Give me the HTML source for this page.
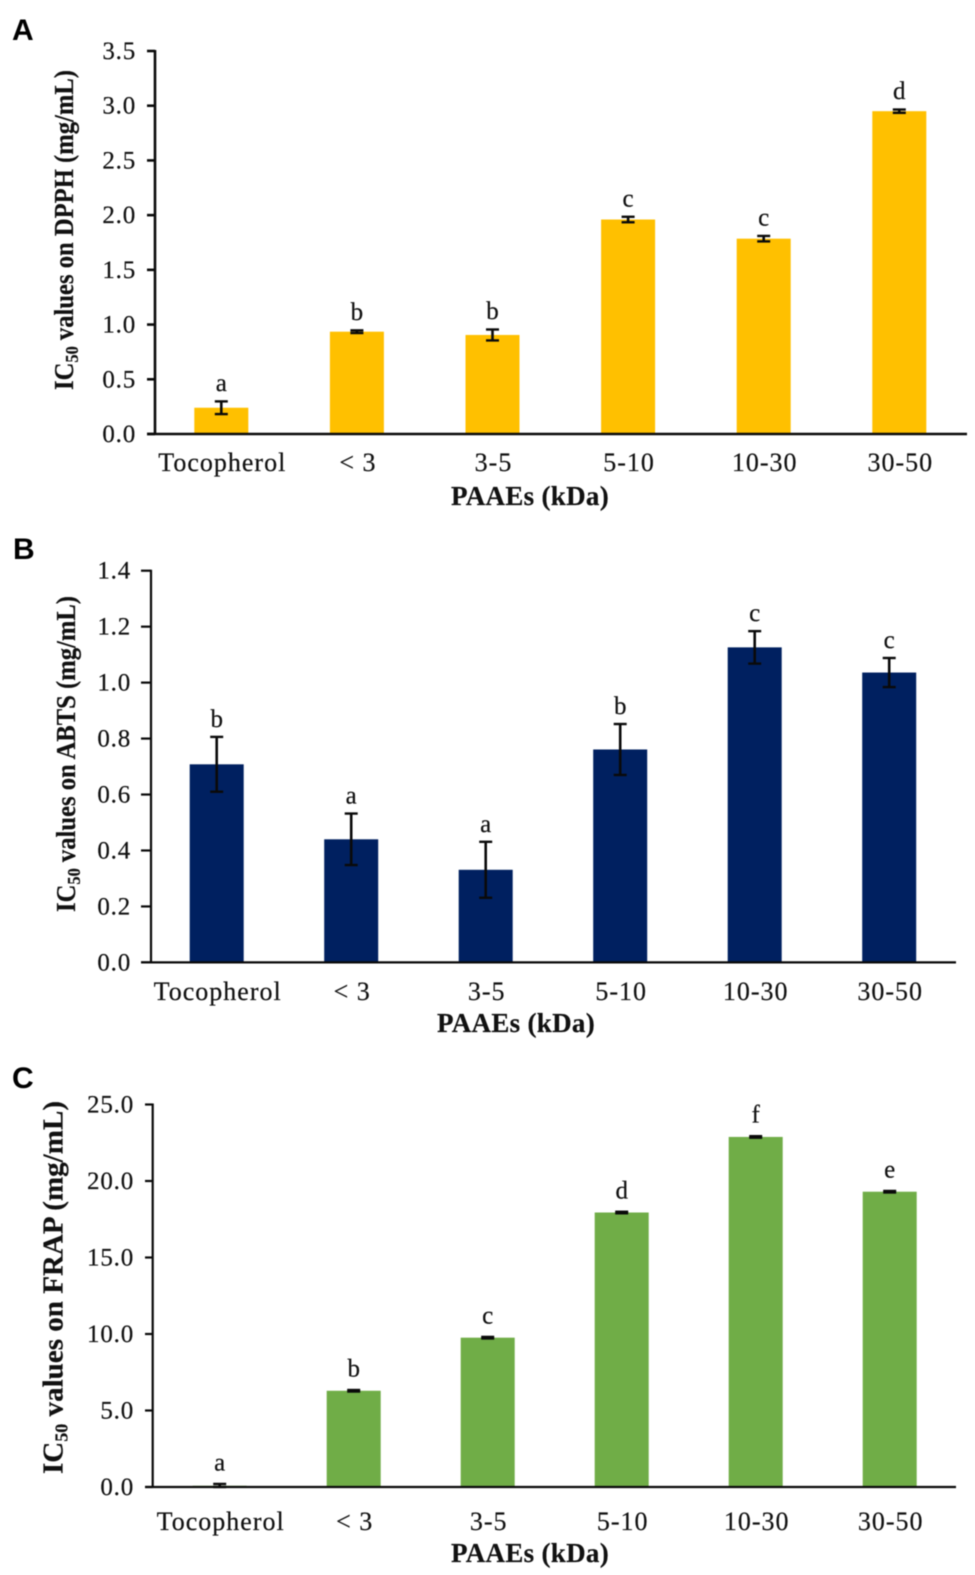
<!DOCTYPE html>
<html lang="en">
<head>
<meta charset="utf-8">
<title>IC50 values of PAAEs on DPPH, ABTS and FRAP</title>
<style>
html,body{margin:0;padding:0;background:#fff;}
body{width:975px;height:1575px;overflow:hidden;}
svg{display:block;filter:blur(0.45px);}
text{font-family:"Liberation Serif",serif;fill:#111;stroke:#111;stroke-width:0.2px;}
.panel-letter{font-family:"Liberation Sans",sans-serif;font-weight:bold;font-size:30px;fill:#000;stroke:none;}
.tick{font-size:25px;letter-spacing:0.8px;}
.cat{font-size:26px;letter-spacing:1px;}
.sig{font-size:25px;text-anchor:middle;}
.title{font-weight:bold;}
.xtitle{font-weight:bold;font-size:27px;letter-spacing:0.3px;text-anchor:middle;}
.sub{font-size:18px;}
</style>
</head>
<body>
<svg id="fig" width="975" height="1575" viewBox="0 0 975 1575" xmlns="http://www.w3.org/2000/svg">
  <rect width="975" height="1575" fill="#fff"></rect>

  <text class="panel-letter" x="12" y="40">A</text>
  <text class="panel-letter" x="13" y="559">B</text>
  <text class="panel-letter" x="12" y="1088">C</text>

  <g id="panel-a"></g>
  <g id="panel-b"></g>
  <g id="panel-c"></g>

  <text class="title" transform="translate(73,390) rotate(-90)" font-size="27" textLength="320" lengthAdjust="spacingAndGlyphs">IC<tspan class="sub" dy="5">50</tspan><tspan dy="-5"> values on DPPH (mg/mL)</tspan></text>
  <text class="title" transform="translate(75,912) rotate(-90)" font-size="27" textLength="316" lengthAdjust="spacingAndGlyphs">IC<tspan class="sub" dy="5">50</tspan><tspan dy="-5"> values on ABTS (mg/mL)</tspan></text>
  <text class="title" transform="translate(62.5,1474) rotate(-90)" font-size="29" textLength="373" lengthAdjust="spacingAndGlyphs">IC<tspan class="sub" dy="5">50</tspan><tspan dy="-5"> values on FRAP (mg/mL)</tspan></text>

  <text class="xtitle" x="530" y="505">PAAEs (kDa)</text>
  <text class="xtitle" x="516" y="1032">PAAEs (kDa)</text>
  <text class="xtitle" x="530" y="1562">PAAEs (kDa)</text>
</svg>

<script>
const categories = ['Tocopherol', '< 3', '3-5', '5-10', '10-30', '30-50'];

const dpphValues = [0.24, 0.935, 0.905, 1.96, 1.785, 2.95];
const dpphErrors = [0.058, 0.012, 0.05, 0.025, 0.025, 0.015];
const dpphLetters = ['a', 'b', 'b', 'c', 'c', 'd'];
const dpphTicks = ['0.0', '0.5', '1.0', '1.5', '2.0', '2.5', '3.0', '3.5'];

const abtsValues = [0.708, 0.44, 0.331, 0.761, 1.126, 1.036];
const abtsErrors = [0.098, 0.092, 0.1, 0.091, 0.058, 0.052];
const abtsLetters = ['b', 'a', 'a', 'b', 'c', 'c'];
const abtsTicks = ['0.0', '0.2', '0.4', '0.6', '0.8', '1.0', '1.2', '1.4'];

const frapValues = [0.08, 6.29, 9.76, 17.94, 22.88, 19.3];
const frapErrors = [0.12, 0.05, 0.05, 0.05, 0.05, 0.05];
const frapLetters = ['a', 'b', 'c', 'd', 'f', 'e'];
const frapTicks = ['0.0', '5.0', '10.0', '15.0', '20.0', '25.0'];

const SVG_NS = 'http://www.w3.org/2000/svg';

function line(parent, x1, y1, x2, y2, width, name) {
  const el = document.createElementNS(SVG_NS, 'line');
  el.setAttribute('x1', x1);
  el.setAttribute('y1', y1);
  el.setAttribute('x2', x2);
  el.setAttribute('y2', y2);
  el.setAttribute('stroke', '#0a0a0a');
  el.setAttribute('stroke-width', width);
  
  
  parent.appendChild(el);
  return el;
}

function label(parent, x, y, str, cls, anchor, name) {
  const el = document.createElementNS(SVG_NS, 'text');
  el.setAttribute('x', x);
  el.setAttribute('y', y);
  el.setAttribute('class', cls);
  el.setAttribute('text-anchor', anchor);
  
  
  el.textContent = str;
  parent.appendChild(el);
  return el;
}

function drawPanel(p) {
  const g = document.getElementById(p.id);
  const maxTick = parseFloat(p.ticks[p.ticks.length - 1]);
  const yScale = v => p.bottom - (v / maxTick) * (p.bottom - p.top);
  const xScale = i => p.first + i * p.step;

  p.values.forEach((v, i) => {
    const bar = document.createElementNS(SVG_NS, 'rect');
    bar.setAttribute('x', xScale(i) - 27);
    bar.setAttribute('y', yScale(v));
    bar.setAttribute('width', 54);
    bar.setAttribute('height', p.bottom - yScale(v));
    bar.setAttribute('fill', p.color);
    
    
    g.appendChild(bar);
  });

  line(g, p.axisX, p.top - 1, p.axisX, p.bottom + 1, p.axisW, 'y-axis-line');
  line(g, p.tickX, p.bottom, p.right, p.bottom, p.axisW, 'x-axis-line');

  p.ticks.forEach(t => {
    const y = yScale(parseFloat(t));
    line(g, p.tickX, y, p.axisX, y, p.axisW, 'y-tick-mark');
    label(g, p.labelX, y + 8, t, 'tick', 'end', 'y-tick-label');
  });

  categories.forEach((c, i) => {
    label(g, xScale(i) + 1, p.catY, c, 'cat', 'middle', 'x-tick-label');
  });

  p.values.forEach((v, i) => {
    const cx = xScale(i);
    const hi = yScale(v + p.errors[i]);
    const lo = yScale(Math.max(v - p.errors[i], 0));
    line(g, cx, hi, cx, lo, 2.6, 'error-bar-stem');
    line(g, cx - 6.5, hi, cx + 6.5, hi, 2.4, 'error-bar-cap-top');
    line(g, cx - 6.5, lo, cx + 6.5, lo, 2.4, 'error-bar-cap-bottom');
    label(g, cx, hi - p.letterGap, p.letters[i], 'sig', 'middle', 'significance-letter');
  });
}

drawPanel({
  id: 'panel-a', key: 'dpph', color: '#FFC000',
  values: dpphValues, errors: dpphErrors, letters: dpphLetters, ticks: dpphTicks,
  top: 51, bottom: 434, axisX: 155, tickX: 147, right: 967, axisW: 2.6,
  first: 221.3, step: 135.6, labelX: 136, catY: 471, letterGap: 10.5
});
drawPanel({
  id: 'panel-b', key: 'abts', color: '#002060',
  values: abtsValues, errors: abtsErrors, letters: abtsLetters, ticks: abtsTicks,
  top: 570.7, bottom: 962.4, axisX: 151, tickX: 141, right: 956, axisW: 2.2,
  first: 216.7, step: 134.5, labelX: 131, catY: 1000, letterGap: 10
});
drawPanel({
  id: 'panel-c', key: 'frap', color: '#70AD47',
  values: frapValues, errors: frapErrors, letters: frapLetters, ticks: frapTicks,
  top: 1104.5, bottom: 1487, axisX: 152.7, tickX: 145, right: 956, axisW: 2.2,
  first: 219.7, step: 134, labelX: 134, catY: 1530, letterGap: 13.5
});
</script>
</body>
</html>
